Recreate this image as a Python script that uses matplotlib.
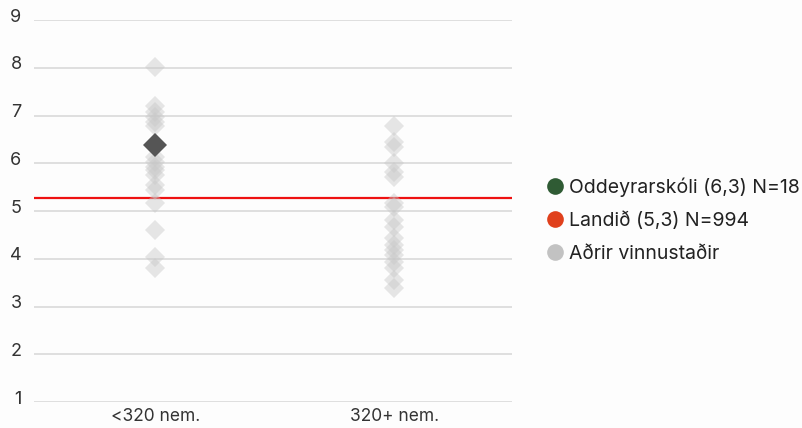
import matplotlib.pyplot as plt
from matplotlib.transforms import ScaledTranslation
from matplotlib.lines import Line2D

plt.rcParams['font.family'] = ['Inter', 'DejaVu Sans']

# Data
categories = ['<320 nem.', '320+ nem.']
others_small = [8.02, 7.20, 7.08, 6.97, 6.87, 6.77, 6.14, 6.03, 5.93, 5.86,
                5.75, 5.54, 5.44, 5.16, 4.60, 4.04, 3.80]
others_large = [6.77, 6.45, 6.35, 6.00, 5.82, 5.72, 5.16, 5.09, 4.81, 4.67,
                4.43, 4.29, 4.18, 4.08, 3.94, 3.80, 3.55, 3.38]
school_value = 6.38
school_cat = 0
national_value = 5.27
legend_labels = ['Oddeyrarskóli (6,3) N=18', 'Landið (5,3) N=994', 'Aðrir vinnustaðir']
legend_colors = ['#2f5b34', '#e0401c', '#c2c2c2']

fig = plt.figure(figsize=(8.02, 4.28), dpi=100)
fig.patch.set_facecolor('#fdfdfd')
ax = fig.add_axes([34 / 802, 1 - 402 / 428, 478 / 802, 382 / 428])
ax.set_facecolor('#fdfdfd')

# grey diamonds for other workplaces
ax.plot([0] * len(others_small), others_small, 'D', color='#c8c8c8', alpha=0.45,
        markersize=10, markeredgewidth=0, zorder=3)
ax.plot([1] * len(others_large), others_large, 'D', color='#c8c8c8', alpha=0.45,
        markersize=10, markeredgewidth=0, zorder=3)
# the school itself
ax.plot([school_cat], [school_value], 'D', color='#555555', markersize=12,
        markeredgewidth=0, zorder=4)

# national average
ax.axhline(national_value, color='#ee1111', linewidth=1.6, zorder=2)

ax.set_xlim(-0.508, 1.492)
ax.set_ylim(1, 9)
ax.set_yticks(range(1, 10))
ax.set_xticks([0, 1])
ax.set_xticklabels(categories)
ax.grid(axis='y', color='#dcdcdc', linewidth=1.3, zorder=0)
ax.set_axisbelow(True)
for s in ax.spines.values():
    s.set_visible(False)
ax.tick_params(axis='both', length=0, colors='#333333')
ax.tick_params(axis='y', pad=9, labelsize=13)
ax.tick_params(axis='x', pad=4, labelsize=12.5)

# y labels sit a bit above the grid lines
off = ScaledTranslation(0, 5 / 100, fig.dpi_scale_trans)
for lbl in ax.get_yticklabels():
    lbl.set_transform(lbl.get_transform() + off)

handles = [Line2D([0], [0], marker='o', linestyle='none', markersize=12,
                  markerfacecolor=c, markeredgewidth=0) for c in legend_colors]
leg = fig.legend(handles, legend_labels, loc='center left',
                 bbox_to_anchor=(545 / 802, 1 - 220 / 428), frameon=False,
                 fontsize=14, handletextpad=0.25, labelspacing=0.75,
                 handlelength=1.0, borderaxespad=0, borderpad=0)
for t in leg.get_texts():
    t.set_color('#222222')

fig.savefig('out.png', dpi=100, facecolor=fig.get_facecolor())
